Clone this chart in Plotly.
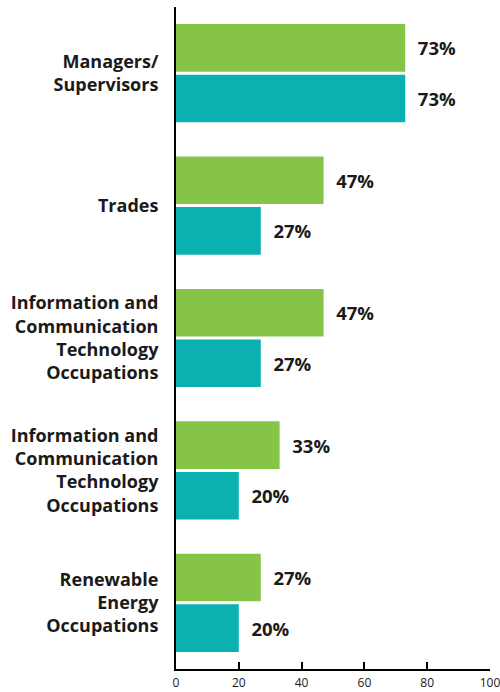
import plotly.graph_objects as go

# Occupation groups (two groups share the same wording)
categories = [
    "Managers/<br>Supervisors",
    "Trades",
    "Information and<br>Communication<br>Technology<br>Occupations",
    "Information and<br>Communication<br>Technology<br>Occupations",
    "Renewable<br>Energy<br>Occupations",
]
series_a = [73, 47, 47, 33, 27]   # green bars
series_b = [73, 27, 27, 20, 20]   # teal bars
x_ticks = [0, 20, 40, 60, 80, 100]

positions = list(range(len(categories)))

GREEN = "#85C446"
TEAL = "#0BB1B1"
FONT = "Open Sans"

label_font = dict(family=FONT, size=18, color="#1a1a1a", weight="bold")
value_font = dict(family=FONT, size=18.5, color="#1a1a1a", weight="bold")

fig = go.Figure()
for vals, color in ((series_a, GREEN), (series_b, TEAL)):
    fig.add_trace(go.Bar(
        y=positions,
        x=vals,
        orientation="h",
        marker=dict(color=color, line=dict(width=0)),
        text=[f"\u00a0\u00a0{v}%" for v in vals],
        textposition="outside",
        textfont=value_font,
        constraintext="none",
        cliponaxis=False,
        hoverinfo="skip",
    ))

fig.update_layout(
    width=500,
    height=692,
    margin=dict(l=176, r=10, t=7, b=23),
    paper_bgcolor="white",
    plot_bgcolor="white",
    barmode="group",
    bargap=0.235,
    bargroupgap=0.06,
    showlegend=False,
    font=dict(family=FONT),
)

fig.update_yaxes(
    tickvals=positions,
    ticktext=categories,
    range=[len(categories) - 0.5, -0.5],
    showline=True,
    linecolor="black",
    linewidth=2,
    ticks="",
    showgrid=False,
    zeroline=False,
    tickfont=label_font,
    ticklabelstandoff=12,
    automargin=False,
)

fig.update_xaxes(
    range=[0, 100],
    tickvals=x_ticks,
    ticktext=[str(t) for t in x_ticks],
    showline=True,
    linecolor="black",
    linewidth=2,
    ticks="inside",
    ticklen=7,
    tickwidth=1.5,
    tickcolor="black",
    showgrid=False,
    zeroline=False,
    tickfont=dict(family=FONT, size=12, color="#1a1a1a"),
    ticklabeloverflow="allow",
    ticklabelstandoff=2,
    automargin=False,
)

fig.write_html("out.html")
